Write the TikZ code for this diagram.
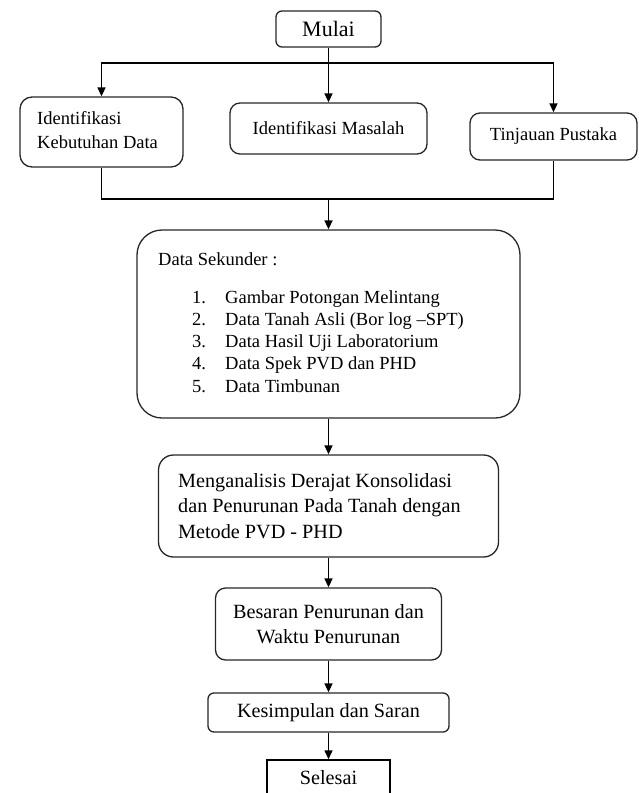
\documentclass[tikz,border=0pt]{standalone}
\usepackage{fontspec}
\setmainfont{Liberation Serif}
\usetikzlibrary{arrows.meta}
\newcommand\myfsA{\fontsize{18.5}{24}\selectfont}
\newcommand\myfsB{\fontsize{20.2}{25.5}\selectfont}
\newcommand\myfsC{\fontsize{22}{26}\selectfont}
\begin{document}
\begin{tikzpicture}[x=1pt,y=-1pt,
  box/.style={draw=black!85, line width=1.3pt, rounded corners=#1, inner sep=0pt, align=center},
  box/.default=8pt,
  conn/.style={draw=black, line width=1.5pt},
  arr/.style={conn, -{Triangle[length=9pt,width=8pt]}},
  txt/.style={inner sep=0pt, align=left}]
\useasboundingbox (0,0) rectangle (638,793);
% top
\node[box=6pt, minimum width=105pt, minimum height=36pt, font=\myfsC] (mulai) at (328.5,29) {Mulai};
\node[box=12pt, minimum width=163pt, minimum height=70pt] (kebutuhan) at (101.5,132) {};
\node[txt, anchor=west, font=\myfsA] (kebutuhantext) at (37,130) {Identifikasi\\Kebutuhan Data};
\node[box=10pt, minimum width=197pt, minimum height=51pt, font=\myfsA] (masalah) at (328.5,128.5) {Identifikasi Masalah};
\node[box=10pt, minimum width=167pt, minimum height=47pt, font=\myfsA] (tinjauan) at (553.5,136.5) {Tinjauan Pustaka};
\coordinate (j) at (328.5,63);
\coordinate (m) at (328.5,199);
\draw[conn] (mulai.south) -- (j);
\draw[arr] (j) -| (kebutuhan.north);
\draw[arr] (j) -- (masalah.north);
\draw[arr] (j) -| (tinjauan.north);
\draw[conn] (kebutuhan.south) -- (kebutuhan.south |- m) -- (tinjauan.south |- m) -- (tinjauan.south);
% data sekunder
\node[box=25pt, minimum width=383pt, minimum height=188pt] (datasek) at (328.5,324) {};
\draw[arr] (m) -- (datasek.north);
\node[txt, anchor=base west, font=\myfsA] (dstitle) at (158,265) {Data Sekunder :};
\foreach \i/\t [count=\k] in {1/Gambar Potongan Melintang, 2/Data Tanah Asli (Bor log --SPT), 3/Data Hasil Uji Laboratorium, 4/Data Spek PVD dan PHD, 5/Data Timbunan}{
  \node[txt, anchor=base west, font=\myfsA] (dsnum\k) at (192,{303+22.25*(\k-1)}) {\i.};
  \node[txt, anchor=base west, font=\myfsA] (dsitem\k) at (225,{303+22.25*(\k-1)}) {\t};
}
% analysis
\node[box=15pt, minimum width=340pt, minimum height=102pt] (analisis) at (328.5,506) {};
\node[txt, anchor=west, font=\myfsB] (analisistext) at (178,506) {Menganalisis Derajat Konsolidasi\\dan Penurunan Pada Tanah dengan\\Metode PVD - PHD};
\draw[arr] (datasek.south) -- (analisis.north);
% besaran
\node[box=10pt, minimum width=226pt, minimum height=72pt, font=\myfsB] (besaran) at (328.5,624) {Besaran Penurunan dan\\Waktu Penurunan};
\draw[arr] (analisis.south) -- (besaran.north);
% kesimpulan
\node[box=6pt, minimum width=241pt, minimum height=39pt, font=\myfsB] (kesimpulan) at (328.5,712.5) {Kesimpulan dan Saran};
\draw[arr] (besaran.south) -- (kesimpulan.north);
% selesai
\node[draw=black, line width=1.5pt, inner sep=0pt, minimum width=123pt, minimum height=56pt] (selesai) at (328.5,788) {};
\node[inner sep=0pt, font=\myfsB] (selesaitext) at (328.5,778) {Selesai};
\draw[arr] (kesimpulan.south) -- (selesai.north);
\end{tikzpicture}
\end{document}
